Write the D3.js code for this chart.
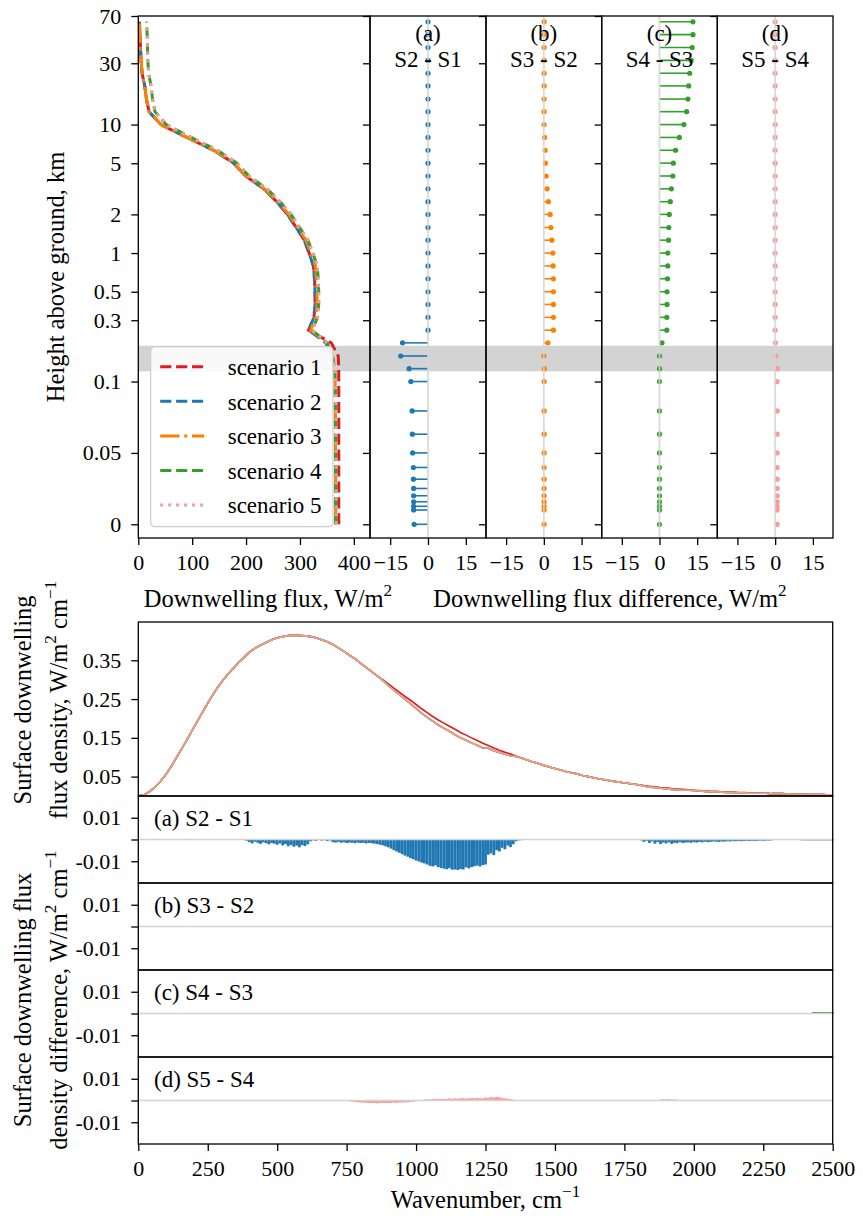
<!DOCTYPE html>
<html>
<head>
<meta charset="utf-8">
<title>Downwelling flux scenarios</title>
<script src="https://cdn.jsdelivr.net/npm/d3@7/dist/d3.min.js"></script>
<style>
	body { margin: 0; background: #fff; }
	svg { display: block; }
	text { font-family: "Liberation Serif", "Times New Roman", Times, serif; fill: #000; }
</style>
</head>
<body>
<svg id="chart" width="863" height="1224"></svg>
<script>
// ---------- profile data, levels from the surface up ----------
var levelKm = [0, 0.01, 0.0126, 0.0158, 0.02, 0.0251, 0.0316, 0.0398, 0.05, 0.0631,
	0.0794, 0.1, 0.126, 0.158, 0.2, 0.251, 0.316, 0.398, 0.5, 0.631,
	0.794, 1.0, 1.26, 1.58, 2.0, 2.51, 3.16, 3.98, 5.01, 6.31,
	7.94, 10.0, 12.6, 15.8, 20.0, 25.1, 31.6, 39.8, 50.1, 63.1];

var fluxS1 = [372, 372, 372, 372, 372, 372, 372, 372, 372, 372,
	372, 372, 372, 371, 358, 316, 326, 328, 328, 327,
	325, 317, 308, 293, 277, 257, 233, 199, 177, 140,
	90, 42, 20, 15, 12, 7, 5, 4, 3, 2];
var fluxS2 = [366.5, 366.3, 366.3, 366.3, 366.3, 366.3, 366.2, 366.2, 365.9, 365.8,
	365.7, 365.2, 364.5, 360.2, 347.9, 316, 326, 328, 328, 327,
	325, 317, 308, 293, 277, 257, 233, 199, 177, 140,
	90, 42, 20, 15, 12, 7, 5, 4, 3, 2];
var fluxS3 = [366.6, 366.4, 366.4, 366.4, 366.4, 366.4, 366.3, 366.3, 366.0, 365.9,
	365.8, 365.3, 364.7, 360.2, 349.5, 319.8, 329.8, 331.8, 331.8, 330.8,
	328.7, 320.6, 311.2, 295.8, 279.5, 258.8, 234.3, 199.9, 177.6, 140.5,
	90.3, 42.1, 20.1, 15.1, 12.1, 7.1, 5.1, 4.1, 3.1, 2.1];
var fluxS4 = [366.6, 366.4, 366.4, 366.4, 366.4, 366.4, 366.3, 366.3, 366.0, 365.9,
	365.8, 365.3, 364.7, 360.2, 350.5, 322.7, 332.7, 334.8, 334.8, 334.0,
	332.0, 323.9, 314.8, 299.5, 283.4, 263.1, 239.0, 205.2, 183.1, 146.9,
	98.2, 51.8, 30.9, 26.4, 23.7, 19.1, 17.7, 17.1, 16.4, 15.4];
var fluxS5 = [367.4, 367.2, 367.2, 367.2, 367.2, 367.2, 367.1, 367.1, 366.8, 366.7,
	366.6, 366.1, 365.5, 360.5, 350.6, 322.7, 332.7, 334.8, 334.8, 334.0,
	332.0, 323.9, 314.8, 299.5, 283.4, 263.1, 239.0, 205.2, 183.1, 146.9,
	98.2, 51.8, 30.9, 26.4, 23.7, 19.1, 17.7, 17.1, 16.4, 15.4];

// differences between consecutive scenarios at each level, W/m2
var diffA = [-5.5, -5.7, -5.7, -5.7, -5.7, -5.7, -5.8, -5.8, -6.1, -6.2,
	-6.3, -6.8, -7.5, -10.8, -10.1, 0, 0, 0, 0, 0,
	0, 0, 0, 0, 0, 0, 0, 0, 0, 0,
	0, 0, 0, 0, 0, 0, 0, 0, 0, 0];
var diffB = [0.1, 0.1, 0.1, 0.1, 0.1, 0.1, 0.1, 0.1, 0.1, 0.1,
	0.1, 0.1, 0.2, 0, 1.6, 3.8, 3.8, 3.8, 3.8, 3.8,
	3.7, 3.6, 3.2, 2.8, 2.5, 1.8, 1.3, 0.9, 0.6, 0.5,
	0.3, 0.1, 0.1, 0.1, 0.1, 0.1, 0.1, 0.1, 0.1, 0.1];
var diffC = [0, 0, 0, 0, 0, 0, 0, 0, 0, 0,
	0, 0, 0, 0, 1.0, 2.9, 2.9, 3.0, 3.0, 3.2,
	3.3, 3.3, 3.6, 3.7, 3.9, 4.3, 4.7, 5.3, 5.5, 6.4,
	7.9, 9.7, 10.8, 11.3, 11.6, 12.0, 12.6, 13.0, 13.3, 13.3];
var diffD = [0.8, 0.8, 0.8, 0.8, 0.8, 0.8, 0.8, 0.8, 0.8, 0.8,
	0.8, 0.8, 0.8, 0.3, 0.1, 0, 0, 0, 0, 0,
	0, 0, 0, 0, 0, 0, 0, 0, 0, 0,
	0, 0, 0, 0, 0, 0, 0, 0, 0, 0];

var bandKm = [0.12, 0.19];
var heightTicks = [0, 0.05, 0.1, 0.3, 0.5, 1, 2, 5, 10, 30, 70];
var fluxTicks = [0, 100, 200, 300, 400];
var diffTicks = [-15, 0, 15];

var scenarioNames = ["scenario 1", "scenario 2", "scenario 3", "scenario 4", "scenario 5"];
var scenarioColors = ["#e31a1c", "#1f78b4", "#ff7f00", "#33a02c", "#fb9a99"];
var scenarioDash = ["11.1,4.8", "11.1,4.8", "19.2,4.8,3,4.8", "11.1,4.8", "3,4.95"];
var panelTags = ["(a)", "(b)", "(c)", "(d)"];
var panelPairs = ["S2 - S1", "S3 - S2", "S4 - S3", "S5 - S4"];

// ---------- surface spectra, every 20 cm-1 from 0 to 2500 ----------
var specWn = d3.range(0, 2501, 20);
var specS1 = [0.000, 0.003, 0.011, 0.023, 0.038, 0.056, 0.078, 0.102, 0.126, 0.151,
	0.177, 0.202, 0.227, 0.252, 0.274, 0.294, 0.312, 0.328, 0.343, 0.357,
	0.371, 0.381, 0.389, 0.396, 0.403, 0.408, 0.411, 0.414, 0.415, 0.414,
	0.413, 0.411, 0.408, 0.403, 0.398, 0.391, 0.382, 0.373, 0.363, 0.354,
	0.343, 0.332, 0.321, 0.310, 0.300, 0.289, 0.278, 0.268, 0.257, 0.247,
	0.236, 0.225, 0.215, 0.205, 0.196, 0.188, 0.180, 0.172, 0.164, 0.157,
	0.150, 0.143, 0.136, 0.130, 0.124, 0.118, 0.113, 0.108, 0.103, 0.098,
	0.093, 0.088, 0.084, 0.079, 0.075, 0.071, 0.067, 0.063, 0.060, 0.057,
	0.053, 0.050, 0.047, 0.044, 0.042, 0.039, 0.037, 0.035, 0.033, 0.031,
	0.029, 0.027, 0.025, 0.024, 0.022, 0.021, 0.019, 0.018, 0.017, 0.016,
	0.015, 0.014, 0.013, 0.012, 0.012, 0.011, 0.010, 0.010, 0.009, 0.009,
	0.008, 0.008, 0.007, 0.007, 0.006, 0.006, 0.006, 0.005, 0.005, 0.005,
	0.004, 0.004, 0.004, 0.004, 0.003, 0.003];
var specS2 = [0.000, 0.003, 0.011, 0.023, 0.038, 0.056, 0.078, 0.102, 0.126, 0.151,
	0.177, 0.202, 0.227, 0.252, 0.274, 0.294, 0.312, 0.328, 0.343, 0.357,
	0.371, 0.381, 0.389, 0.396, 0.403, 0.408, 0.411, 0.414, 0.415, 0.414,
	0.413, 0.411, 0.408, 0.403, 0.398, 0.391, 0.382, 0.373, 0.363, 0.354,
	0.343, 0.332, 0.321, 0.310, 0.298, 0.285, 0.273, 0.262, 0.250, 0.238,
	0.226, 0.214, 0.203, 0.193, 0.183, 0.175, 0.167, 0.158, 0.150, 0.144,
	0.137, 0.131, 0.124, 0.123, 0.117, 0.112, 0.108, 0.104, 0.102, 0.098,
	0.093, 0.088, 0.084, 0.079, 0.075, 0.071, 0.067, 0.063, 0.060, 0.057,
	0.053, 0.050, 0.047, 0.044, 0.042, 0.039, 0.037, 0.035, 0.033, 0.031,
	0.029, 0.026, 0.023, 0.022, 0.020, 0.019, 0.017, 0.016, 0.015, 0.015,
	0.014, 0.013, 0.012, 0.011, 0.011, 0.010, 0.009, 0.009, 0.008, 0.008,
	0.007, 0.007, 0.007, 0.007, 0.006, 0.006, 0.006, 0.005, 0.005, 0.005,
	0.004, 0.004, 0.004, 0.004, 0.003, 0.003];
// S3, S4 and S5 differ from S2 by less than 0.002 (under one pixel here)
var specS3 = specS2, specS4 = specS2, specS5 = specS2;

// ---------- spectral differences, every 10 cm-1 from 0 to 2500 ----------
var diffWn = d3.range(0, 2501, 10);
var specDiffA = [
	0, 0, 0, 0, 0, 0, 0, 0, 0, 0,
	0, 0, 0, 0, 0, 0, 0, 0, 0, 0,
	0, 0, 0, 0, 0, 0, 0, 0, 0, 0,
	0, 0, 0, 0, 0, 0, 0, 0, 0, -0.0006,
	-0.0012, -0.0018, -0.0010, -0.0015, -0.0020, -0.0013, -0.0017, -0.0022, -0.0016, -0.0019,
	-0.0024, -0.0018, -0.0027, -0.0021, -0.0031, -0.0025, -0.0033, -0.0028, -0.0036, -0.0026,
	-0.0030, -0.0022, -0.0008, -0.0004, -0.0006, 0, -0.0005, -0.0003, -0.0007, -0.0004,
	-0.0012, -0.0014, -0.0011, -0.0015, -0.0013, -0.0016, -0.0014, -0.0015, -0.0017, -0.0014,
	-0.0016, -0.0015, -0.0018, -0.0016, -0.0017, -0.0019, -0.0021, -0.0024, -0.0027, -0.0031,
	-0.0036, -0.0042, -0.0049, -0.0055, -0.0061, -0.0068, -0.0074, -0.0079, -0.0086, -0.0091,
	-0.0097, -0.0101, -0.0106, -0.0110, -0.0115, -0.0121, -0.0124, -0.0119, -0.0127, -0.0131,
	-0.0134, -0.0137, -0.0132, -0.0139, -0.0138, -0.0140, -0.0136, -0.0138, -0.0128, -0.0133,
	-0.0127, -0.0123, -0.0120, -0.0124, -0.0118, -0.0115, -0.0070, -0.0064, -0.0072, -0.0049,
	-0.0055, -0.0038, -0.0045, -0.0028, -0.0035, -0.0022, -0.0008, -0.0004, -0.0003, 0,
	0, 0, 0, 0, 0, 0, 0, 0, 0, 0,
	0, 0, 0, 0, 0, 0, 0, 0, 0, 0,
	0, 0, 0, 0, 0, 0, 0, 0, 0, 0,
	0, 0, 0, 0, 0, 0, 0, 0, 0, 0,
	0, -0.0004, -0.0011, -0.0006, -0.0016, -0.0009, -0.0019, -0.0012, -0.0021, -0.0014,
	-0.0018, -0.0013, -0.0020, -0.0015, -0.0017, -0.0012, -0.0016, -0.0014, -0.0013, -0.0015,
	-0.0012, -0.0014, -0.0011, -0.0013, -0.0010, -0.0012, -0.0011, -0.0009, -0.0010, -0.0011,
	-0.0009, -0.0010, -0.0008, -0.0009, -0.0007, -0.0008, -0.0007, -0.0008, -0.0007, -0.0006,
	-0.0007, -0.0006, -0.0007, -0.0006, -0.0005, -0.0006, -0.0005, -0.0005, -0.0004, 0,
	0, 0, 0, 0, 0, 0, 0, 0, 0, -0.0004,
	-0.0004, -0.0004, -0.0004, -0.0004, -0.0004, -0.0004, -0.0004, -0.0004, -0.0004, -0.0004,
	-0.0004];
var specDiffB = [
	0, 0, 0, 0, 0, 0, 0, 0, 0, 0,
	0, 0, 0, 0, 0, 0, 0, 0, 0, 0,
	0, 0, 0, 0, 0, 0, 0, 0, 0, 0,
	0, 0, 0, 0, 0, 0, 0, 0, 0, 0,
	0, 0, 0, 0, 0, 0, 0, 0, 0, 0,
	0, 0, 0, 0, 0, 0, 0, 0, 0, 0,
	0, 0, 0, 0, 0, 0, 0, 0, 0, 0,
	0, 0, 0, 0, 0, 0, 0, 0, 0, 0,
	0, 0, 0, 0, 0, 0, 0, 0, 0, 0,
	0, 0, 0, 0, 0, 0, 0, 0, 0, 0,
	0, 0, 0, 0, 0, 0, 0, 0, 0, 0,
	0, 0, 0, 0, 0, 0, 0, 0, 0, 0,
	0, 0, 0, 0, 0, 0, 0, 0, 0, 0,
	0, 0, 0, 0, 0, 0, 0, 0, 0, 0,
	0, 0, 0, 0, 0, 0, 0, 0, 0, 0,
	0, 0, 0, 0, 0, 0, 0, 0, 0, 0,
	0, 0, 0, 0, 0, 0, 0, 0, 0, 0,
	0, 0, 0, 0, 0, 0, 0, 0, 0, 0,
	0, 0, 0, 0, 0, 0, 0, 0, 0, 0,
	0, 0, 0, 0, 0, 0, 0, 0, 0, 0,
	0, 0, 0, 0, 0, 0, 0, 0, 0, 0,
	0, 0, 0, 0, 0, 0, 0, 0, 0, 0,
	0, 0, 0, 0, 0, 0, 0, 0, 0, 0,
	0, 0, 0, 0, 0, 0, 0, 0, 0, 0,
	0, 0, 0, 0, 0, 0, 0, 0, 0, 0,
	0];
var specDiffC = [
	0, 0, 0, 0, 0, 0, 0, 0, 0, 0,
	0, 0, 0, 0, 0, 0, 0, 0, 0, 0,
	0, 0, 0, 0, 0, 0, 0, 0, 0, 0,
	0, 0, 0, 0, 0, 0, 0, 0, 0, 0,
	0, 0, 0, 0, 0, 0, 0, 0, 0, 0,
	0, 0, 0, 0, 0, 0, 0, 0, 0, 0,
	0, 0, 0, 0, 0, 0, 0, 0, 0, 0,
	0, 0, 0, 0, 0, 0, 0, 0, 0, 0,
	0, 0, 0, 0, 0, 0, 0, 0, 0, 0,
	0, 0, 0, 0, 0, 0, 0, 0, 0, 0,
	0, 0, 0, 0, 0, 0, 0, 0, 0, 0,
	0, 0, 0, 0, 0, 0, 0, 0, 0, 0,
	0, 0, 0, 0, 0, 0, 0, 0, 0, 0,
	0, 0, 0, 0, 0, 0, 0, 0, 0, 0,
	0, 0, 0, 0, 0, 0, 0, 0, 0, 0,
	0, 0, 0, 0, 0, 0, 0, 0, 0, 0,
	0, 0, 0, 0, 0, 0, 0, 0, 0, 0,
	0, 0, 0, 0, 0, 0, 0, 0, 0, 0,
	0, 0, 0, 0, 0, 0, 0, 0, 0, 0,
	0, 0, 0, 0, 0, 0, 0, 0, 0, 0,
	0, 0, 0, 0, 0, 0, 0, 0, 0, 0,
	0, 0, 0, 0, 0, 0, 0, 0, 0, 0,
	0, 0, 0, 0, 0, 0, 0, 0, 0, 0,
	0, 0, 0, 0, 0, 0, 0, 0, 0, 0,
	0, 0, 0, 0.0007, 0.0007, 0.0007, 0.0007, 0.0007, 0.0007, 0.0007,
	0.0007];
var specDiffD = [
	0, 0, 0, 0, 0, 0, 0, 0, 0, 0,
	0, 0, 0, 0, 0, 0, 0, 0, 0, 0,
	0, 0, 0, 0, 0, 0, 0, 0, 0, 0,
	0, 0, 0, 0, 0, 0, 0, 0, 0, 0,
	0, 0, -0.0001, 0, -0.0002, 0, -0.0001, 0, -0.0002, 0,
	0, -0.0001, 0, -0.0002, 0, -0.0001, 0, 0, -0.0001, 0,
	0, 0, 0, 0, 0, 0, 0, 0, 0, 0,
	0, 0, 0, 0, 0, -0.0002, -0.0003, -0.0005, -0.0007, -0.0008,
	-0.0009, -0.0010, -0.0011, -0.0012, -0.0011, -0.0012, -0.0013, -0.0012, -0.0011, -0.0012,
	-0.0011, -0.0012, -0.0010, -0.0011, -0.0009, -0.0010, -0.0008, -0.0009, -0.0007, -0.0006,
	-0.0003, 0, 0.0002, 0.0004, 0.0006, 0.0005, 0.0007, 0.0006, 0.0008, 0.0007,
	0.0008, 0.0007, 0.0009, 0.0008, 0.0010, 0.0009, 0.0010, 0.0011, 0.0009, 0.0010,
	0.0011, 0.0010, 0.0012, 0.0011, 0.0010, 0.0013, 0.0012, 0.0016, 0.0014, 0.0017,
	0.0015, 0.0012, 0.0010, 0.0008, 0.0006, 0.0004, 0.0002, 0, 0, 0,
	0, 0, 0, 0, 0, 0, 0, 0, 0, 0,
	0, 0, 0, 0, 0, 0, 0, 0, 0, 0,
	0, 0, 0, 0, 0, 0, 0, 0, 0, 0,
	0, 0, 0, 0, 0, 0, 0, 0, 0, 0,
	0, 0, 0, 0, 0, 0, 0, 0, 0.0004, 0.0006,
	0.0005, 0.0006, 0.0004, 0.0005, 0.0003, 0, 0, 0, 0, 0,
	0, 0, 0, 0, 0, 0, 0, 0, 0, 0,
	0, 0, 0, 0, 0, 0, 0, 0, 0, 0,
	0, 0, 0, 0, 0, 0, 0, 0, 0, 0,
	0, 0, 0, 0, 0, 0, 0, 0, 0, 0,
	0, 0, 0, 0, 0, 0, 0, 0, 0, 0,
	0];

var wnTicks = [0, 250, 500, 750, 1000, 1250, 1500, 1750, 2000, 2250, 2500];
var specTicks = [0.05, 0.15, 0.25, 0.35];
var specDiffTicks = [0.01, 0, -0.01];
var specTags = ["(a) S2 - S1", "(b) S3 - S2", "(c) S4 - S3", "(d) S5 - S4"];

// ---------- drawing ----------
var svg = d3.select("#chart");
var TICK_FS = 22, LABEL_FS = 24.5, TEXT_FS = 23;
var lightGray = "#d3d3d3";

function styleAxis(g){
	g.attr("font-size", TICK_FS).attr("font-family", null);
	g.select(".domain").remove();
	g.selectAll(".tick line").attr("stroke", "#000").attr("stroke-width", 1.3);
	g.selectAll(".tick text").attr("fill", "#000");
}

function spine(x0, y0, x1, y1){
	svg.append("rect")
		.attr("x", x0).attr("y", y0)
		.attr("width", x1 - x0).attr("height", y1 - y0)
		.attr("fill", "none").attr("stroke", "#000").attr("stroke-width", 1.3);
}

// text with superscripts: parts = [[string, isSup], ...]
function richText(parent, parts, fs){
	var t = parent.append("text").attr("font-size", fs);
	var cur = 0;
	parts.forEach(function(p){
		var lift = p[1] ? -0.45 * fs : 0;
		var ts = t.append("tspan").text(p[0]);
		if(p[1]) ts.attr("font-size", fs * 0.7);
		if(lift !== cur) ts.attr("dy", lift - cur);
		cur = lift;
	});
	return t;
}

// ---- top row: profiles ----
var profTop = 16, profBottom = 538;
var mainLeft = 138.3, mainRight = 370;
var diffEdges = [370, 486, 601.7, 717.3, 833];

// symmetric log, linear below 0.1 km
function symlog(h){
	var lin = 1 / (1 - 1 / 10);
	if(Math.abs(h) <= 0.1) return h / 0.1 * lin;
	return (h < 0 ? -1 : 1) * (lin + Math.log10(Math.abs(h) / 0.1));
}
var yProf = d3.scaleLinear().domain([symlog(-0.0096), symlog(70)]).range([profBottom, profTop]);
function yKm(h){ return yProf(symlog(h)); }
var xFlux = d3.scaleLinear().domain([0, 430]).range([mainLeft, mainRight]);

svg.append("rect")
	.attr("x", mainLeft).attr("width", diffEdges[4] - mainLeft)
	.attr("y", yKm(bandKm[1])).attr("height", yKm(bandKm[0]) - yKm(bandKm[1]))
	.attr("fill", lightGray);

var scenFlux = [fluxS1, fluxS2, fluxS3, fluxS4, fluxS5];
var profLine = d3.line()
	.x(function(d){ return xFlux(d.f); })
	.y(function(d){ return yKm(d.h); });

scenFlux.forEach(function(vals, s){
	var pts = levelKm.map(function(h, i){ return {h: h, f: vals[i]}; });
	svg.append("path")
		.attr("d", profLine(pts))
		.attr("fill", "none")
		.attr("stroke", scenarioColors[s])
		.attr("stroke-width", 3)
		.attr("stroke-dasharray", scenarioDash[s]);
});

var gyMain = svg.append("g")
	.attr("transform", "translate(" + mainLeft + ",0)")
	.call(d3.axisLeft(yProf)
		.tickValues(heightTicks.map(symlog))
		.tickFormat(function(d, i){ return String(heightTicks[i]); })
		.tickSize(7).tickPadding(10));
styleAxis(gyMain);

var gxMain = svg.append("g")
	.attr("transform", "translate(0," + profBottom + ")")
	.call(d3.axisBottom(xFlux).tickValues(fluxTicks).tickSize(7).tickPadding(9));
styleAxis(gxMain);
spine(mainLeft, profTop, mainRight, profBottom);

// legend
var leg = svg.append("g").attr("transform", "translate(150.7,346.7)");
leg.append("rect")
	.attr("width", 182.3).attr("height", 180).attr("rx", 4)
	.attr("fill", "#fff").attr("fill-opacity", 0.85)
	.attr("stroke", "#cccccc").attr("stroke-width", 1.2);
scenarioNames.forEach(function(name, s){
	var cy = 20 + s * 34.6;
	leg.append("line")
		.attr("x1", 9.5).attr("x2", 53.5).attr("y1", cy).attr("y2", cy)
		.attr("stroke", scenarioColors[s]).attr("stroke-width", 3)
		.attr("stroke-dasharray", scenarioDash[s]);
	leg.append("text")
		.attr("x", 77).attr("y", cy + 8.3)
		.attr("font-size", TEXT_FS)
		.text(name);
});

// difference panels
var profDiffs = [diffA, diffB, diffC, diffD];
profDiffs.forEach(function(vals, p){
	var x0 = diffEdges[p], x1 = diffEdges[p + 1];
	var xd = d3.scaleLinear().domain([-23, 23]).range([x0, x1]);
	var col = scenarioColors[p + 1];
	var pts = levelKm.map(function(h, i){ return {h: h, v: vals[i]}; });
	var g = svg.append("g");

	g.selectAll("line.stem").data(pts).enter().append("line")
		.attr("class", "stem")
		.attr("x1", xd(0))
		.attr("x2", function(d){ return xd(d.v); })
		.attr("y1", function(d){ return yKm(d.h); })
		.attr("y2", function(d){ return yKm(d.h); })
		.attr("stroke", col).attr("stroke-width", 1.6);
	g.selectAll("circle").data(pts).enter().append("circle")
		.attr("cx", function(d){ return xd(d.v); })
		.attr("cy", function(d){ return yKm(d.h); })
		.attr("r", 2.6)
		.attr("fill", col);
	g.append("line")
		.attr("x1", xd(0)).attr("x2", xd(0))
		.attr("y1", profTop).attr("y2", profBottom)
		.attr("stroke", lightGray).attr("stroke-width", 1.8).attr("stroke-opacity", 0.85);

	var cx = (x0 + x1) / 2;
	g.append("text").attr("x", cx).attr("y", 41).attr("text-anchor", "middle")
		.attr("font-size", TEXT_FS).text(panelTags[p]);
	g.append("text").attr("x", cx).attr("y", 67).attr("text-anchor", "middle")
		.attr("font-size", TEXT_FS).text(panelPairs[p]);

	var gx = svg.append("g")
		.attr("transform", "translate(0," + profBottom + ")")
		.call(d3.axisBottom(xd).tickValues(diffTicks)
			.tickFormat(function(d){ return d < 0 ? "\u2212" + Math.abs(d) : String(d); })
			.tickSize(7).tickPadding(9));
	styleAxis(gx);
	var gy = svg.append("g")
		.attr("transform", "translate(" + x0 + ",0)")
		.call(d3.axisLeft(yProf).tickValues(heightTicks.map(symlog))
			.tickFormat(function(){ return ""; }).tickSize(7));
	styleAxis(gy);
	spine(x0, profTop, x1, profBottom);
});

richText(svg, [["Downwelling flux, W/m", false], ["2", true]], LABEL_FS)
	.attr("x", 268).attr("y", 607).attr("text-anchor", "middle");
richText(svg, [["Downwelling flux difference, W/m", false], ["2", true]], LABEL_FS)
	.attr("x", 610).attr("y", 607).attr("text-anchor", "middle");
var ty1 = svg.append("g").attr("transform", "translate(64,277) rotate(-90)");
ty1.append("text").attr("text-anchor", "middle").attr("font-size", LABEL_FS)
	.text("Height above ground, km");

// ---- bottom: spectra ----
var specTop = 622, specBottom = 796, diffH = 87;
var specRight = 832.7;
var xWn = d3.scaleLinear().domain([0, 2500]).range([mainLeft, specRight]);
var ySpec = d3.scaleLinear().domain([0, 0.4488]).range([specBottom, specTop]);

svg.append("clipPath").attr("id", "specClip")
	.append("rect").attr("x", mainLeft).attr("y", specTop)
	.attr("width", specRight - mainLeft).attr("height", specBottom - specTop);

var specLine = d3.line()
	.x(function(d){ return xWn(d.w); })
	.y(function(d){ return ySpec(d.v); });
[specS1, specS2, specS3, specS4, specS5].forEach(function(vals, s){
	var pts = specWn.map(function(w, i){ return {w: w, v: vals[i]}; });
	svg.append("path")
		.attr("d", specLine(pts))
		.attr("clip-path", "url(#specClip)")
		.attr("fill", "none")
		.attr("stroke", scenarioColors[s])
		.attr("stroke-width", 1.6);
});
var gys = svg.append("g")
	.attr("transform", "translate(" + mainLeft + ",0)")
	.call(d3.axisLeft(ySpec).tickValues(specTicks).tickFormat(d3.format(".2f"))
		.tickSize(7).tickPadding(10));
styleAxis(gys);
spine(mainLeft, specTop, specRight, specBottom);

var specDiffs = [specDiffA, specDiffB, specDiffC, specDiffD];
var barW = xWn(10) - xWn(0);
specDiffs.forEach(function(vals, p){
	var t0 = specBottom + p * diffH, t1 = t0 + diffH;
	var yd = d3.scaleLinear().domain([-0.02, 0.02]).range([t1, t0]);
	var col = scenarioColors[p + 1];
	var pts = diffWn.map(function(w, i){ return {w: w, v: vals[i]}; })
		.filter(function(d){ return d.v !== 0; });
	var g = svg.append("g");
	g.selectAll("rect").data(pts).enter().append("rect")
		.attr("x", function(d){ return xWn(d.w) - barW / 2; })
		.attr("width", barW)
		.attr("y", function(d){ return Math.min(yd(0), yd(d.v)); })
		.attr("height", function(d){ return Math.abs(yd(d.v) - yd(0)); })
		.attr("fill", col);
	g.append("line")
		.attr("x1", mainLeft).attr("x2", specRight)
		.attr("y1", yd(0)).attr("y2", yd(0))
		.attr("stroke", lightGray).attr("stroke-width", 1.6);
	g.append("text").attr("x", 154).attr("y", t0 + 30)
		.attr("font-size", TEXT_FS).text(specTags[p]);

	var gy = svg.append("g")
		.attr("transform", "translate(" + mainLeft + ",0)")
		.call(d3.axisLeft(yd).tickValues(specDiffTicks)
			.tickFormat(function(d){ return d === 0 ? "" : (d > 0 ? "0.01" : "-0.01"); })
			.tickSize(7).tickPadding(10));
	styleAxis(gy);
	spine(mainLeft, t0, specRight, t1);
});

var diffBottom = specBottom + 4 * diffH;
var gxs = svg.append("g")
	.attr("transform", "translate(0," + diffBottom + ")")
	.call(d3.axisBottom(xWn).tickValues(wnTicks).tickFormat(d3.format("d"))
		.tickSize(7).tickPadding(9));
styleAxis(gxs);

richText(svg, [["Wavenumber, cm", false], ["\u22121", true]], LABEL_FS)
	.attr("x", 485.5).attr("y", 1208).attr("text-anchor", "middle");

var ly1 = svg.append("g").attr("transform", "translate(0,700) rotate(-90)");
ly1.append("text").attr("x", 0).attr("y", 31).attr("text-anchor", "middle")
	.attr("font-size", LABEL_FS).text("Surface downwelling");
richText(ly1, [["flux density, W/m", false], ["2", true], [" cm", false], ["\u22121", true]], LABEL_FS)
	.attr("x", 0).attr("y", 67).attr("text-anchor", "middle");

var ly2 = svg.append("g").attr("transform", "translate(0,1000) rotate(-90)");
ly2.append("text").attr("x", 0).attr("y", 31).attr("text-anchor", "middle")
	.attr("font-size", LABEL_FS).text("Surface downwelling flux");
richText(ly2, [["density difference, W/m", false], ["2", true], [" cm", false], ["\u22121", true]], LABEL_FS)
	.attr("x", 0).attr("y", 67).attr("text-anchor", "middle");
</script>
</body>
</html>
